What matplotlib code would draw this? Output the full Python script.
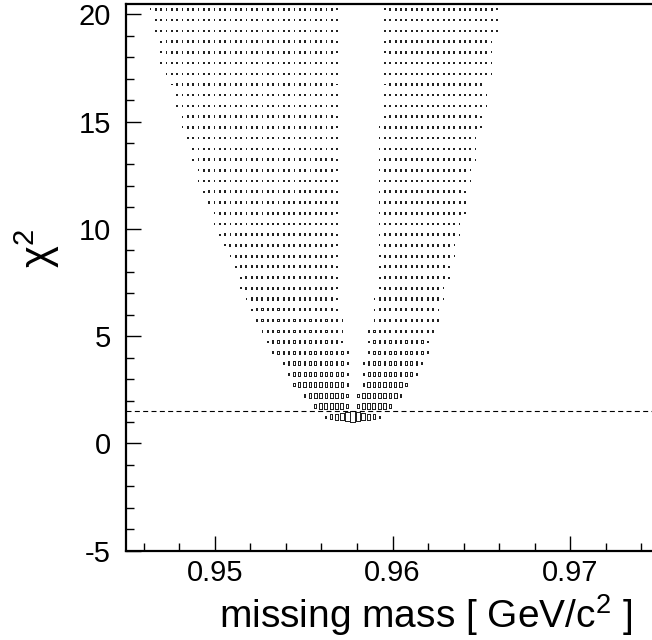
import matplotlib.pyplot as plt
import numpy as np
from matplotlib.patches import Rectangle
from matplotlib.collections import PatchCollection
from matplotlib.ticker import MultipleLocator

plt.rcParams['font.family'] = ['Liberation Sans', 'DejaVu Sans']
plt.rcParams['mathtext.fontset'] = 'custom'
plt.rcParams['mathtext.rm'] = 'Liberation Sans'
plt.rcParams['mathtext.it'] = 'Liberation Sans:italic'
plt.rcParams['axes.unicode_minus'] = False

# chi2 bins (centres, 0.5 wide)
chi2_rows = [1.25, 1.75, 2.25, 2.75, 3.25, 3.75, 4.25, 4.75, 5.25, 5.75,
             6.25, 6.75, 7.25, 7.75, 8.25, 8.75, 9.25, 9.75, 10.25, 10.75,
             11.25, 11.75, 12.25, 12.75, 13.25, 13.75, 14.25, 14.75, 15.25, 15.75,
             16.25, 16.75, 17.25, 17.75, 18.25, 18.75, 19.25, 19.75, 20.25]
chi2_step = 0.5

# missing mass binning [GeV/c^2]
mass_lo, mass_hi, mass_step = 0.945, 0.975, 0.0003

# first / last filled mass bin (centre) of the left and right branch per chi2 row
left_start = [0.95625, 0.95565, 0.95505, 0.95445, 0.95415, 0.95385, 0.95325, 0.95295, 0.95265, 0.95235,
              0.95205, 0.95175, 0.95145, 0.95145, 0.95115, 0.95085, 0.95055, 0.95025, 0.94995, 0.94995,
              0.94965, 0.94935, 0.94905, 0.94905, 0.94875, 0.94875, 0.94845, 0.94815, 0.94815, 0.94785,
              0.94785, 0.94755, 0.94725, 0.94695, 0.94695, 0.94695, 0.94665, 0.94665, 0.94635]
left_end = [0.95775] + [0.95745] * 6 + [0.95715] * 3 + [0.95685] * 29
right_start = ([0.95805] * 3 + [0.95835] * 3 + [0.95865] * 3 + [0.95895] * 3
               + [0.95925] * 16 + [0.95955] * 11)
right_end = [0.95925, 0.95985, 0.96045, 0.96075, 0.96135, 0.96165, 0.96195, 0.96195, 0.96225, 0.96255,
             0.96255, 0.96285, 0.96285, 0.96315, 0.96315, 0.96345, 0.96345, 0.96375, 0.96375, 0.96405,
             0.96405, 0.96405, 0.96435, 0.96435, 0.96465, 0.96465, 0.96465, 0.96495, 0.96495, 0.96525,
             0.96525, 0.96525, 0.96555, 0.96555, 0.96555, 0.96555, 0.96585, 0.96585, 0.96585]

# relative cell content per row (max = 1)
row_level = [1.0, 0.30, 0.24, 0.19, 0.13, 0.10, 0.08, 0.065, 0.055, 0.05,
             0.045, 0.042, 0.04, 0.038, 0.036, 0.034, 0.032, 0.03, 0.029, 0.028,
             0.027, 0.026, 0.025, 0.024, 0.024, 0.023, 0.023, 0.022, 0.022, 0.021,
             0.021, 0.02, 0.02, 0.02, 0.02, 0.02, 0.02, 0.02, 0.02]
# lowest row, cells from 0.95625 to 0.95925
bottom_row_level = [0.04, 0.16, 0.3, 0.5, 0.8, 1.0, 0.8, 0.5, 0.3, 0.16, 0.04]
edge_dim = 0.35

cut_chi2 = 1.5


def to_bin(m):
    return int(round((m - mass_lo) / mass_step - 0.5))


def centre(k):
    return mass_lo + (k + 0.5) * mass_step


cells = []  # (mass, chi2, level)
for i, y in enumerate(chi2_rows):
    if i == 0:
        k0 = to_bin(left_start[0])
        for j, lv in enumerate(bottom_row_level):
            cells.append((centre(k0 + j), y, lv))
        continue
    for a, b in ((left_start[i], left_end[i]), (right_start[i], right_end[i])):
        ka, kb = to_bin(a), to_bin(b)
        for k in range(ka, kb + 1):
            lv = row_level[i] * (edge_dim if k in (ka, kb) else 1.0)
            cells.append((centre(k), y, lv))

boxes = []
for m, y, lv in cells:
    s = np.sqrt(lv)
    w, h = mass_step * s, chi2_step * s
    boxes.append(Rectangle((m - w / 2, y - h / 2), w, h))

fig = plt.figure(figsize=(6.52, 6.40), dpi=100)
ax = fig.add_axes([0.1933, 0.1395, 0.8175, 0.855])
ax.add_collection(PatchCollection(boxes, facecolor='none', edgecolor='#222222',
                                  linewidth=0.5, antialiased=False))
ax.axhline(cut_chi2, color='black', linewidth=0.8, dashes=(4.5, 3))

ax.set_xlim(mass_lo, mass_hi)
ax.set_ylim(-5, 20.5)
ax.set_xticks([0.95, 0.96, 0.97])
ax.set_xticklabels(['0.95', '0.96', '0.97'])
ax.xaxis.set_minor_locator(MultipleLocator(0.002))
ax.set_yticks([-5, 0, 5, 10, 15, 20])
ax.yaxis.set_minor_locator(MultipleLocator(1))
ax.tick_params(which='both', direction='in', top=False, right=False, width=1)
ax.tick_params(which='major', length=11, labelsize=21)
ax.tick_params(which='minor', length=6)
ax.tick_params(axis='x', pad=6)
ax.tick_params(axis='y', pad=11)
for sp in ax.spines.values():
    sp.set_linewidth(1.6)

fig.text(37 / 652, 1 - 248 / 640, r'$\mathrm{\chi}^{2}$', rotation=90,
         fontsize=30, ha='center', va='center')
fig.text(632 / 652, 1 - 628 / 640, r'missing mass [ GeV/c$^{2}$ ]',
         fontsize=28, ha='right', va='baseline')

fig.savefig('out.png', dpi=100)
